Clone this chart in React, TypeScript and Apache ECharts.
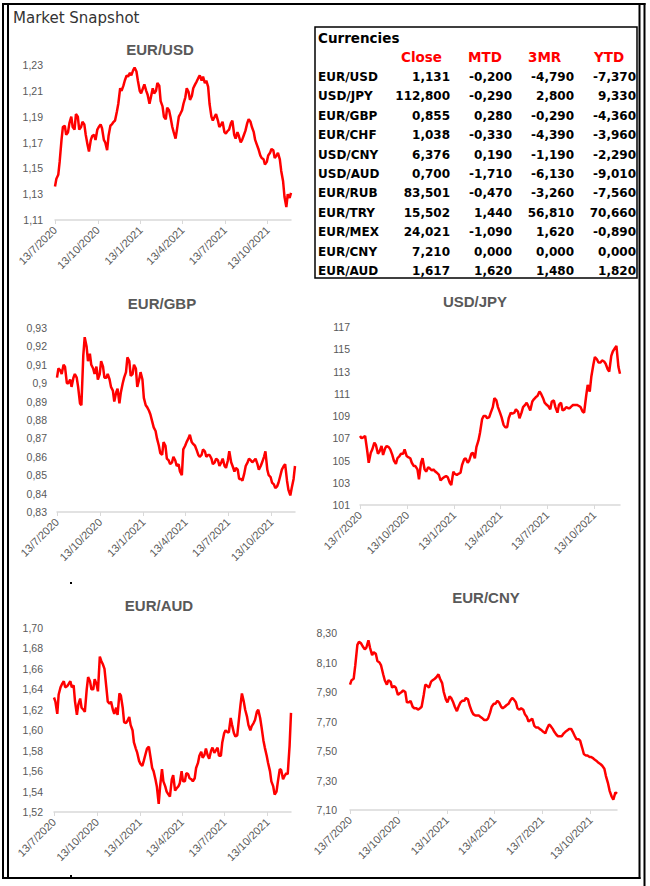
import React, { useEffect, useRef } from 'react';
import * as echarts from 'echarts';

// ---------- DATA ----------
const dates = [
  '2020-07-13', '2020-07-16', '2020-07-20', '2020-07-23', '2020-07-27', '2020-07-30', '2020-08-03', '2020-08-06',
  '2020-08-10', '2020-08-13', '2020-08-17', '2020-08-20', '2020-08-24', '2020-08-27', '2020-08-31', '2020-09-03',
  '2020-09-07', '2020-09-10', '2020-09-14', '2020-09-17', '2020-09-21', '2020-09-24', '2020-09-28', '2020-10-01',
  '2020-10-05', '2020-10-08', '2020-10-12', '2020-10-15', '2020-10-19', '2020-10-22', '2020-10-26', '2020-10-29',
  '2020-11-02', '2020-11-05', '2020-11-09', '2020-11-12', '2020-11-16', '2020-11-19', '2020-11-23', '2020-11-26',
  '2020-11-30', '2020-12-03', '2020-12-07', '2020-12-10', '2020-12-14', '2020-12-17', '2020-12-21', '2020-12-24',
  '2020-12-28', '2020-12-31', '2021-01-04', '2021-01-07', '2021-01-11', '2021-01-14', '2021-01-18', '2021-01-21',
  '2021-01-25', '2021-01-28', '2021-02-01', '2021-02-04', '2021-02-08', '2021-02-11', '2021-02-15', '2021-02-18',
  '2021-02-22', '2021-02-25', '2021-03-01', '2021-03-04', '2021-03-08', '2021-03-11', '2021-03-15', '2021-03-18',
  '2021-03-22', '2021-03-25', '2021-03-29', '2021-04-01', '2021-04-05', '2021-04-08', '2021-04-12', '2021-04-15',
  '2021-04-19', '2021-04-22', '2021-04-26', '2021-04-29', '2021-05-03', '2021-05-06', '2021-05-10', '2021-05-13',
  '2021-05-17', '2021-05-20', '2021-05-24', '2021-05-27', '2021-05-31', '2021-06-03', '2021-06-07', '2021-06-10',
  '2021-06-14', '2021-06-17', '2021-06-21', '2021-06-24', '2021-06-28', '2021-07-01', '2021-07-05', '2021-07-08',
  '2021-07-12', '2021-07-15', '2021-07-19', '2021-07-22', '2021-07-26', '2021-07-29', '2021-08-02', '2021-08-05',
  '2021-08-09', '2021-08-12', '2021-08-16', '2021-08-19', '2021-08-23', '2021-08-26', '2021-08-30', '2021-09-02',
  '2021-09-06', '2021-09-09', '2021-09-13', '2021-09-16', '2021-09-20', '2021-09-23', '2021-09-27', '2021-09-30',
  '2021-10-04', '2021-10-07', '2021-10-11', '2021-10-14', '2021-10-18', '2021-10-21', '2021-10-25', '2021-10-28',
  '2021-11-01', '2021-11-04', '2021-11-08', '2021-11-11', '2021-11-15', '2021-11-18', '2021-11-22', '2021-11-25',
  '2021-11-29', '2021-12-02',
];

const eurUsd = [
  1.136, 1.142, 1.145, 1.155, 1.172, 1.182, 1.183, 1.176, 1.178, 1.185, 1.19, 1.182, 1.18, 1.192, 1.19, 1.18,
  1.182, 1.186, 1.184, 1.176, 1.168, 1.163, 1.172, 1.175, 1.176, 1.172, 1.18, 1.182, 1.184, 1.181, 1.172, 1.17,
  1.164, 1.175, 1.183, 1.184, 1.186, 1.187, 1.194, 1.2, 1.212, 1.21, 1.214, 1.218, 1.222, 1.221, 1.224, 1.222,
  1.226, 1.228, 1.225, 1.218, 1.21, 1.208, 1.212, 1.215, 1.21, 1.207, 1.2, 1.205, 1.212, 1.208, 1.21, 1.216,
  1.214, 1.202, 1.198, 1.19, 1.188, 1.197, 1.195, 1.19, 1.182, 1.178, 1.173, 1.18, 1.19, 1.192, 1.195, 1.2,
  1.205, 1.212, 1.209, 1.203, 1.206, 1.212, 1.215, 1.217, 1.22, 1.222, 1.218, 1.221, 1.216, 1.218, 1.213, 1.2,
  1.19, 1.187, 1.19, 1.192, 1.187, 1.182, 1.184, 1.186, 1.178, 1.177, 1.179, 1.18, 1.185, 1.187, 1.176, 1.173,
  1.178, 1.175, 1.17, 1.172, 1.176, 1.179, 1.185, 1.188, 1.186, 1.182, 1.178, 1.172, 1.168, 1.165, 1.16, 1.158,
  1.157, 1.153, 1.155, 1.16, 1.162, 1.165, 1.164, 1.158, 1.16, 1.162, 1.157, 1.148, 1.14, 1.128, 1.12, 1.13,
  1.127, 1.131,
];

const eurGbp = [
  0.903, 0.908, 0.907, 0.905, 0.91, 0.909, 0.9, 0.9, 0.902, 0.898, 0.903, 0.905, 0.903, 0.898, 0.889, 0.888,
  0.915, 0.925, 0.92, 0.912, 0.916, 0.91, 0.908, 0.905, 0.909, 0.902, 0.905, 0.912, 0.909, 0.903, 0.903, 0.905,
  0.902, 0.898, 0.896, 0.89, 0.895, 0.897, 0.889, 0.895, 0.9, 0.903, 0.906, 0.914, 0.912, 0.904, 0.905, 0.91,
  0.908, 0.898, 0.902, 0.906, 0.902, 0.892, 0.888, 0.887, 0.885, 0.883, 0.879, 0.876, 0.874, 0.87, 0.866, 0.862,
  0.861, 0.868, 0.866, 0.859, 0.858, 0.856, 0.857, 0.86, 0.858, 0.855, 0.856, 0.852, 0.85, 0.864, 0.866, 0.868,
  0.87, 0.872, 0.868, 0.867, 0.866, 0.864, 0.861, 0.86, 0.861, 0.864, 0.863, 0.86, 0.861, 0.861, 0.859, 0.856,
  0.857, 0.859, 0.858, 0.855, 0.857, 0.859, 0.855, 0.854, 0.858, 0.863, 0.857, 0.855, 0.852, 0.854, 0.853, 0.848,
  0.848, 0.847, 0.851, 0.855, 0.857, 0.859, 0.858, 0.857, 0.858, 0.859, 0.856, 0.853, 0.855, 0.857, 0.86, 0.863,
  0.853, 0.85, 0.849, 0.846, 0.845, 0.843, 0.844, 0.846, 0.85, 0.853, 0.855, 0.856, 0.847, 0.842, 0.839, 0.843,
  0.848, 0.855,
];

const usdJpy = [
  107.2, 107.0, 107.1, 107.2, 105.9, 104.8, 105.7, 106.0, 106.6, 106.4, 105.6, 105.8, 106.3, 105.5, 106.1, 106.3,
  106.2, 106.0, 105.5, 105.0, 104.7, 105.2, 105.4, 105.6, 105.6, 106.0, 105.4, 105.3, 105.2, 104.8, 104.5, 104.5,
  104.2, 103.3, 104.8, 105.2, 104.2, 104.0, 104.4, 104.3, 104.1, 104.2, 104.0, 103.9, 103.7, 103.2, 103.4, 103.5,
  103.6, 103.5, 103.0, 102.8, 104.0, 103.8, 103.7, 103.8, 103.9, 104.6, 105.1, 105.2, 104.8, 105.0, 105.6, 105.7,
  105.2, 106.2, 106.8, 107.5, 108.7, 109.0, 109.0, 108.8, 108.9, 109.3, 109.8, 110.6, 110.4, 109.8, 109.3, 108.9,
  108.2, 108.0, 108.0, 108.8, 109.3, 109.2, 109.3, 109.6, 109.4, 108.8, 109.3, 109.8, 110.0, 110.2, 109.8, 109.5,
  110.3, 110.5, 110.7, 110.8, 111.2, 111.0, 110.6, 110.2, 110.0, 109.9, 109.6, 110.3, 110.4, 109.8, 109.3, 110.0,
  110.2, 109.5, 109.6, 109.8, 109.7, 109.7, 109.9, 110.0, 110.0, 110.0, 109.9, 109.8, 109.4, 109.3, 110.8, 111.8,
  111.2, 112.5, 113.6, 114.3, 114.1, 113.8, 113.8, 114.0, 113.9, 113.7, 113.2, 113.0, 114.4, 114.8, 115.1, 115.3,
  113.4, 112.8,
];

const eurAud = [
  1.632, 1.628, 1.616, 1.635, 1.642, 1.645, 1.648, 1.642, 1.643, 1.645, 1.648, 1.642, 1.644, 1.628, 1.615, 1.625,
  1.631, 1.622, 1.62, 1.618, 1.64, 1.652, 1.648, 1.64, 1.64, 1.65, 1.645, 1.638, 1.672, 1.668, 1.664, 1.66,
  1.642, 1.628, 1.626, 1.628, 1.62, 1.616, 1.622, 1.615, 1.636, 1.634, 1.622, 1.608, 1.607, 1.609, 1.613, 1.605,
  1.6, 1.588, 1.582, 1.578, 1.57, 1.567, 1.565, 1.57, 1.577, 1.582, 1.584, 1.575, 1.563, 1.56, 1.552, 1.545,
  1.528, 1.545, 1.562, 1.55, 1.545, 1.54, 1.537, 1.535, 1.552, 1.556, 1.541, 1.543, 1.545, 1.548, 1.56, 1.55,
  1.55, 1.558, 1.557, 1.553, 1.552, 1.55, 1.553, 1.563, 1.568, 1.575, 1.579, 1.573, 1.576, 1.582, 1.575, 1.572,
  1.58, 1.583, 1.578, 1.58, 1.583, 1.575, 1.575, 1.588, 1.597, 1.6, 1.598, 1.598, 1.612, 1.605, 1.597, 1.594,
  1.595, 1.608, 1.625, 1.636, 1.628, 1.62, 1.613, 1.605, 1.6, 1.604, 1.607, 1.61, 1.618, 1.62, 1.612, 1.603,
  1.59, 1.583, 1.575, 1.568, 1.56, 1.55, 1.545, 1.537, 1.54, 1.55, 1.562, 1.561, 1.552, 1.555, 1.558, 1.557,
  1.585, 1.617,
];

const eurCny = [
  7.95, 7.98, 7.99, 8.08, 8.22, 8.24, 8.23, 8.21, 8.19, 8.2, 8.25, 8.2, 8.15, 8.17, 8.16, 8.11,
  8.1, 8.08, 8.02, 7.98, 7.95, 7.98, 7.97, 7.93, 7.94, 7.93, 7.88, 7.89, 7.9, 7.91, 7.9, 7.83,
  7.83, 7.84, 7.8, 7.79, 7.79, 7.78, 7.79, 7.8, 7.88, 7.95, 7.94, 7.93, 7.97, 7.98, 7.99, 8.0,
  8.02, 7.99, 7.96, 7.9, 7.85, 7.83, 7.87, 7.86, 7.83, 7.8, 7.77, 7.8, 7.83, 7.84, 7.84, 7.86,
  7.85, 7.81, 7.77, 7.75, 7.74, 7.74, 7.74, 7.73, 7.72, 7.71, 7.71, 7.72, 7.76, 7.8, 7.82, 7.82,
  7.84, 7.83, 7.8, 7.79, 7.8, 7.81, 7.82, 7.84, 7.86, 7.85, 7.83, 7.79, 7.78, 7.79, 7.78, 7.75,
  7.73, 7.7, 7.71, 7.72, 7.67, 7.66, 7.66, 7.65, 7.64, 7.63, 7.62, 7.65, 7.68, 7.67, 7.65, 7.63,
  7.61, 7.6, 7.6, 7.6, 7.62, 7.63, 7.64, 7.65, 7.65, 7.63, 7.6, 7.58, 7.58, 7.57, 7.52, 7.48,
  7.47, 7.47, 7.46, 7.46, 7.45, 7.44, 7.43, 7.42, 7.41, 7.4, 7.38, 7.33, 7.28, 7.23, 7.19, 7.17,
  7.22, 7.21,
];

const tickDates = ['2020-07-13', '2020-10-13', '2021-01-13', '2021-04-13', '2021-07-13', '2021-10-13'];

const eurUsdTicks = [1.11, 1.13, 1.15, 1.17, 1.19, 1.21, 1.23];
const eurGbpTicks = [0.83, 0.84, 0.85, 0.86, 0.87, 0.88, 0.89, 0.9, 0.91, 0.92, 0.93];
const usdJpyTicks = [101, 103, 105, 107, 109, 111, 113, 115, 117];
const eurAudTicks = [1.52, 1.54, 1.56, 1.58, 1.6, 1.62, 1.64, 1.66, 1.68, 1.7];
const eurCnyTicks = [7.1, 7.3, 7.5, 7.7, 7.9, 8.1, 8.3];

const tablePairs = ['EUR/USD', 'USD/JPY', 'EUR/GBP', 'EUR/CHF', 'USD/CNY', 'USD/AUD', 'EUR/RUB', 'EUR/TRY', 'EUR/MEX', 'EUR/CNY', 'EUR/AUD'];
const tableClose = [1.131, 112.8, 0.855, 1.038, 6.376, 0.7, 83.501, 15.502, 24.021, 7.21, 1.617];
const tableMtd = [-0.2, -0.29, 0.28, -0.33, 0.19, -1.71, -0.47, 1.44, -1.09, 0, 1.62];
const table3mr = [-4.79, 2.8, -0.29, -4.39, -1.19, -6.13, -3.26, 56.81, 1.62, 0, 1.48];
const tableYtd = [-7.37, 9.33, -4.36, -3.96, -2.29, -9.01, -7.56, 70.66, -0.89, 0, 1.82];
const tableHeaders = ['Close', 'MTD', '3MR', 'YTD'];

// ---------- HELPERS ----------
const ts = (s: string) => {
  const [y, m, d] = s.split('-').map(Number);
  return Date.UTC(y, m - 1, d);
};
const fmtDate = (v: number) => {
  const d = new Date(v);
  return `${d.getUTCDate()}/${d.getUTCMonth() + 1}/${d.getUTCFullYear()}`;
};
const fix2 = (v: number) => v.toFixed(2).replace('.', ',');
const gen = (v: number) => String(Number(v.toFixed(4))).replace('.', ',');
const fix3 = (v: number) => v.toFixed(3).replace('.', ',');

const AX_FONT = 'Liberation Sans';
const GRAY = '#595959';

const panels = [
  { title: 'EUR/USD', data: eurUsd, ticks: eurUsdTicks, fmt: fix2 },
  { title: 'EUR/GBP', data: eurGbp, ticks: eurGbpTicks, fmt: gen },
  { title: 'USD/JPY', data: usdJpy, ticks: usdJpyTicks, fmt: gen },
  { title: 'EUR/AUD', data: eurAud, ticks: eurAudTicks, fmt: fix2 },
  { title: 'EUR/CNY', data: eurCny, ticks: eurCnyTicks, fmt: fix2 },
];

// layout: grid box + title centre + y label margin
const layout = [
  { left: 55, top: 65, width: 236, height: 155, tx: 160, ty: 49, margin: 12 },
  { left: 57, top: 328, width: 238, height: 184, tx: 162, ty: 303, margin: 10 },
  { left: 360, top: 327, width: 260, height: 178, tx: 475, ty: 301, margin: 10 },
  { left: 54, top: 628, width: 237, height: 184, tx: 159, ty: 605, margin: 11 },
  { left: 350, top: 633, width: 267, height: 177, tx: 486, ty: 597, margin: 13 },
];

export default function App() {
  const ref = useRef<HTMLDivElement>(null);

  useEffect(() => {
    if (!ref.current) return;
    const chart = echarts.init(ref.current, undefined, { renderer: 'svg' });
    const xMin = ts(dates[0]);
    const xMax = ts(dates[dates.length - 1]);
    const tickTs = tickDates.map(ts);

    const grid = layout.map((l) => ({ left: l.left, top: l.top, width: l.width, height: l.height, containLabel: false }));
    const xAxis = panels.map((_, i) => ({
      gridIndex: i,
      type: 'value',
      min: xMin,
      max: xMax,
      axisLine: { show: true, lineStyle: { color: '#d9d9d9', width: 1.5 } },
      axisTick: { show: true, customValues: tickTs, length: 4, lineStyle: { color: '#d9d9d9', width: 1 } },
      axisLabel: {
        customValues: tickTs,
        rotate: 45,
        margin: 8,
        formatter: (v: number) => fmtDate(v),
        color: GRAY,
        fontSize: 11,
        fontFamily: AX_FONT,
      },
      splitLine: { show: false },
    }));
    const yAxis = panels.map((p, i) => ({
      gridIndex: i,
      type: 'value',
      min: p.ticks[0],
      max: p.ticks[p.ticks.length - 1],
      axisLine: { show: false },
      axisTick: { show: false },
      splitLine: { show: false },
      axisLabel: {
        customValues: p.ticks,
        formatter: (v: number) => p.fmt(v),
        color: GRAY,
        fontSize: 10.5,
        fontFamily: AX_FONT,
        margin: layout[i].margin,
      },
    }));
    const series = panels.map((p, i) => ({
      type: 'line',
      name: p.title,
      xAxisIndex: i,
      yAxisIndex: i,
      showSymbol: false,
      symbol: 'none',
      lineStyle: { color: '#ff0000', width: 2.5 },
      data: dates.map((d, j) => [ts(d), p.data[j]]),
    }));

    const titles = panels.map((p, i) => ({
      type: 'text',
      x: layout[i].tx,
      y: layout[i].ty,
      style: {
        text: p.title,
        align: 'center',
        verticalAlign: 'middle',
        fill: GRAY,
        font: `bold 15px "${AX_FONT}"`,
      },
    }));

    // table
    const TF = 'DejaVu Sans';
    const rowY0 = 77;
    const rowStep = 19.4;
    const colRight = [450, 512, 574, 636];
    const headerLeft = [401, 468, 528, 594];
    const cols = [tableClose, tableMtd, table3mr, tableYtd];
    const tableEls: any[] = [
      { type: 'rect', shape: { x: 315, y: 27, width: 322, height: 251 }, style: { fill: 'none', stroke: '#000', lineWidth: 1.5 } },
      { type: 'text', x: 318, y: 38, style: { text: 'Currencies', align: 'left', verticalAlign: 'middle', fill: '#000', font: `bold 13.5px "${TF}"` } },
    ];
    tableHeaders.forEach((h, c) => {
      tableEls.push({ type: 'text', x: headerLeft[c], y: 57, style: { text: h, align: 'left', verticalAlign: 'middle', fill: '#ff0000', font: `bold 13.5px "${TF}"` } });
    });
    tablePairs.forEach((pair, r) => {
      const y = rowY0 + r * rowStep;
      tableEls.push({ type: 'text', x: 318, y, style: { text: pair, align: 'left', verticalAlign: 'middle', fill: '#000', font: `bold 12px "${TF}"` } });
      cols.forEach((col, c) => {
        tableEls.push({ type: 'text', x: colRight[c], y, style: { text: fix3(col[r]), align: 'right', verticalAlign: 'middle', fill: '#000', font: `bold 12px "${TF}"` } });
      });
    });

    const frame: any[] = [
      { type: 'line', shape: { x1: 2, y1: 4, x2: 645.5, y2: 4 }, style: { stroke: '#000', lineWidth: 2 } },
      { type: 'line', shape: { x1: 2, y1: 878, x2: 640.5, y2: 878 }, style: { stroke: '#000', lineWidth: 2 } },
      { type: 'line', shape: { x1: 3, y1: 3, x2: 3, y2: 879 }, style: { stroke: '#000', lineWidth: 2 } },
      { type: 'line', shape: { x1: 8, y1: 3, x2: 8, y2: 879 }, style: { stroke: '#000', lineWidth: 2 } },
      { type: 'line', shape: { x1: 639.5, y1: 3, x2: 639.5, y2: 879 }, style: { stroke: '#000', lineWidth: 2 } },
      { type: 'line', shape: { x1: 644.5, y1: 3, x2: 644.5, y2: 886 }, style: { stroke: '#000', lineWidth: 2 } },
      { type: 'rect', shape: { x: 70, y: 582, width: 2, height: 2 }, style: { fill: '#000' } },
      { type: 'rect', shape: { x: 70, y: 875, width: 2, height: 2 }, style: { fill: '#000' } },
      { type: 'text', x: 13, y: 18, style: { text: 'Market Snapshot', align: 'left', verticalAlign: 'middle', fill: '#333', font: `15px "DejaVu Sans"` } },
    ];

    chart.setOption({
      animation: false,
      backgroundColor: '#fff',
      grid,
      xAxis,
      yAxis,
      series,
      graphic: { elements: [...frame, ...titles, ...tableEls] },
    } as any);

    return () => chart.dispose();
  }, []);

  return <div ref={ref} style={{ position: 'fixed', left: 0, top: 0, width: 650, height: 886, background: '#fff' }} />;
}
